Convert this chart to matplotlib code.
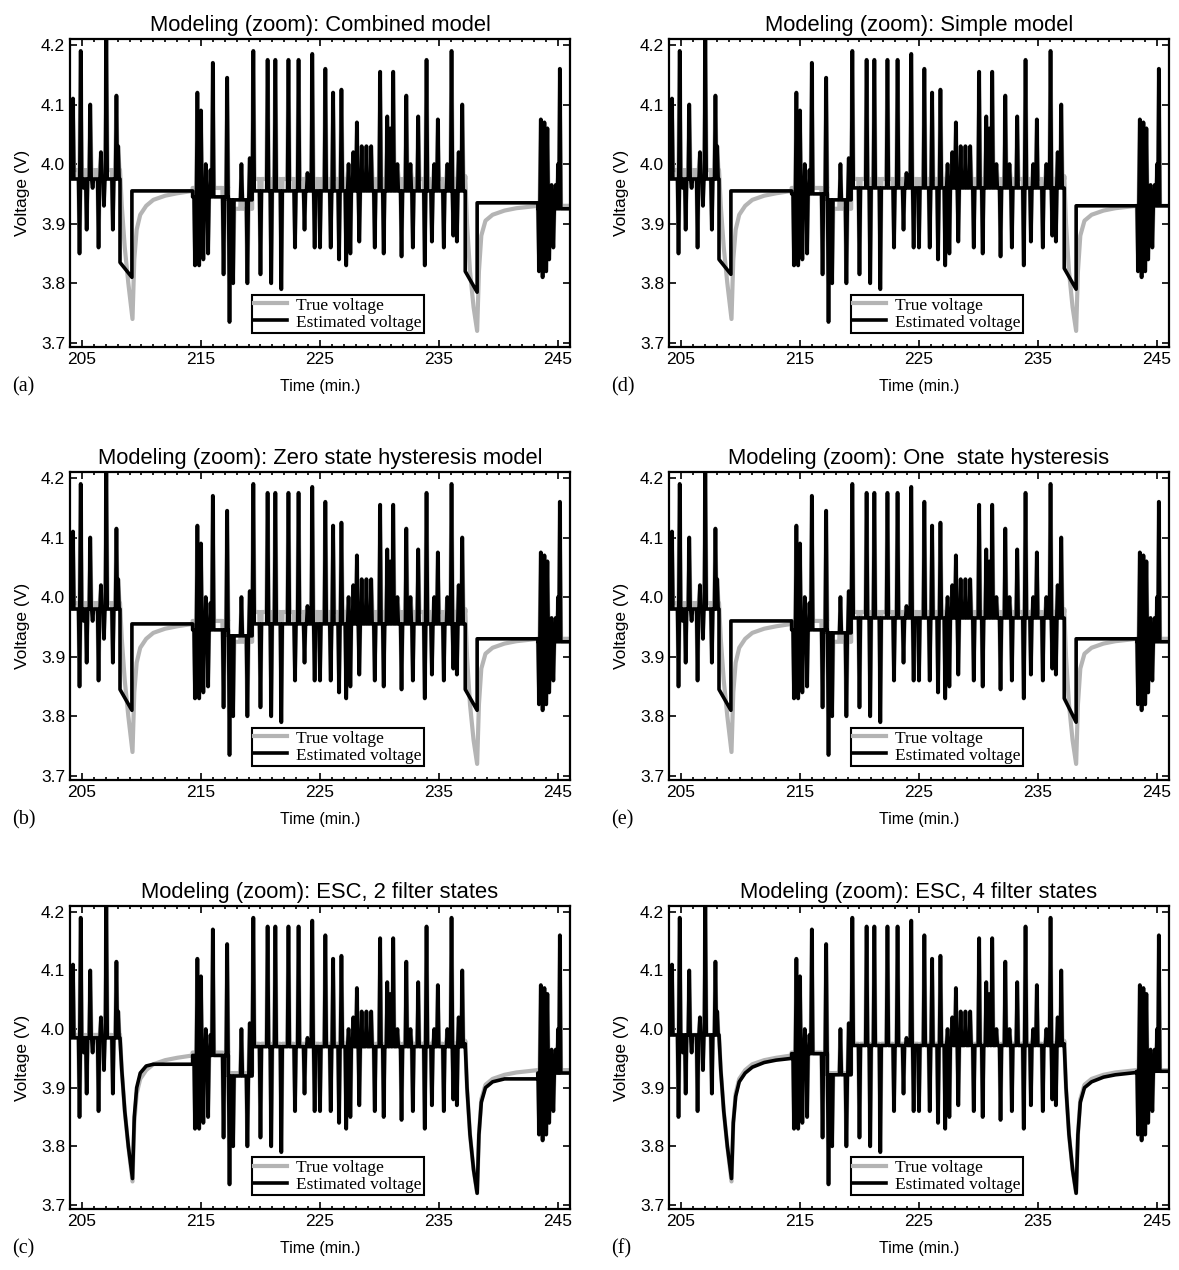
import numpy as np
import matplotlib.pyplot as plt
from matplotlib.ticker import MultipleLocator, FormatStrFormatter

# spike events while driving (time in min., peak voltage)
spike_t = [204.25, 204.8, 204.9, 205.15, 205.4, 205.7, 205.9, 206.4, 206.6, 206.85, 207.05, 207.6, 207.9, 208.05,
           214.5, 214.7, 214.85, 215.0, 215.2, 215.4, 215.6, 215.8, 216.0, 216.9, 217.2, 217.4, 217.7, 218.4,
           218.9, 219.1, 219.4, 220.0, 220.6, 220.9, 221.25, 221.75, 222.35, 222.9, 223.2, 223.7, 223.95, 224.35,
           224.55, 225.0, 225.45, 225.9, 226.1, 226.6, 226.8, 227.2, 227.4, 227.55, 227.8, 228.1, 228.3, 228.5,
           228.9, 229.3, 229.6, 230.05, 230.35, 230.65, 230.9, 231.15, 231.5, 231.85, 232.25, 232.6, 232.8, 233.25,
           233.8, 233.95, 234.4, 234.6, 234.9, 235.4, 235.7, 236.05, 236.2, 236.5, 236.65, 236.95,
           243.4, 243.55, 243.7, 243.85, 244.0, 244.1, 244.25, 244.45, 244.6, 244.8, 245.0, 245.15]
spike_v = [4.11, 3.85, 4.19, 3.96, 3.89, 4.10, 3.96, 3.86, 4.02, 3.93, 4.21, 3.89, 4.115, 4.03,
           3.83, 4.12, 3.83, 4.09, 3.84, 4.00, 3.85, 3.99, 4.17, 3.815, 4.145, 3.735, 3.80, 4.00,
           3.80, 4.01, 4.19, 3.815, 4.175, 3.80, 4.175, 3.79, 4.175, 3.86, 4.175, 3.89, 3.985, 4.185,
           3.86, 3.86, 4.16, 3.86, 4.12, 3.84, 4.125, 3.83, 4.00, 3.85, 4.02, 4.07, 3.87, 4.03,
           4.03, 4.03, 3.86, 4.155, 3.85, 4.08, 4.06, 4.155, 4.00, 3.845, 4.115, 4.00, 3.86, 4.08,
           3.83, 4.175, 3.87, 4.00, 4.075, 3.86, 4.00, 4.19, 3.88, 3.87, 4.02, 4.10,
           3.82, 4.075, 3.81, 4.07, 3.82, 4.06, 3.84, 3.965, 3.86, 3.965, 4.00, 4.16]

# driving sections (start, end) between the rest periods
sec_start = [204.0, 214.3, 217.3, 219.3, 243.3]
sec_end = [208.2, 217.3, 219.3, 237.2, 246.0]

# rest level of each section
rest_true = [3.99, 3.96, 3.925, 3.975, 3.93]
rest_a = [3.975, 3.945, 3.94, 3.955, 3.925]
rest_b = [3.98, 3.945, 3.935, 3.955, 3.925]
rest_c = [3.985, 3.955, 3.92, 3.97, 3.925]
rest_d = [3.975, 3.95, 3.94, 3.96, 3.93]
rest_e = [3.98, 3.945, 3.94, 3.965, 3.925]
rest_f = [3.99, 3.958, 3.922, 3.972, 3.928]

# first rest period (208.2 - 214.3 min.)
dip1_t_true = [208.2, 208.35, 208.6, 208.9, 209.25, 209.4, 209.6, 209.9, 210.4, 211.0, 212.0, 213.0, 214.3]
dip1_v_true = [3.99, 3.93, 3.86, 3.80, 3.74, 3.84, 3.89, 3.915, 3.93, 3.94, 3.947, 3.951, 3.955]
dip1_v_c = [3.985, 3.93, 3.86, 3.80, 3.745, 3.85, 3.90, 3.925, 3.937, 3.94, 3.94, 3.94, 3.94]
dip1_v_f = [3.99, 3.93, 3.86, 3.80, 3.745, 3.84, 3.885, 3.91, 3.925, 3.935, 3.943, 3.947, 3.95]
dip1_t_step = [208.2, 208.2, 209.2, 209.2, 214.3]
dip1_v_a = [3.975, 3.835, 3.81, 3.955, 3.955]
dip1_v_b = [3.98, 3.845, 3.81, 3.955, 3.955]
dip1_v_d = [3.975, 3.84, 3.815, 3.955, 3.955]
dip1_v_e = [3.98, 3.845, 3.81, 3.96, 3.96]

# second rest period (237.2 - 243.3 min.)
dip2_t_true = [237.2, 237.35, 237.6, 237.9, 238.2, 238.35, 238.55, 238.9, 239.5, 240.5, 241.5, 243.3]
dip2_v_true = [3.98, 3.90, 3.82, 3.76, 3.72, 3.82, 3.88, 3.905, 3.915, 3.922, 3.926, 3.93]
dip2_v_c = [3.975, 3.90, 3.82, 3.76, 3.72, 3.82, 3.875, 3.90, 3.91, 3.915, 3.915, 3.915]
dip2_v_f = [3.975, 3.90, 3.82, 3.76, 3.72, 3.82, 3.875, 3.90, 3.91, 3.918, 3.922, 3.926]
dip2_t_step = [237.2, 237.2, 238.2, 238.2, 243.3]
dip2_v_a = [3.955, 3.82, 3.785, 3.935, 3.935]
dip2_v_b = [3.955, 3.845, 3.81, 3.93, 3.93]
dip2_v_d = [3.96, 3.825, 3.79, 3.93, 3.93]
dip2_v_e = [3.965, 3.83, 3.79, 3.93, 3.93]

titles = ["Modeling (zoom): Combined model", "Modeling (zoom): Zero state hysteresis model",
          "Modeling (zoom): ESC, 2 filter states", "Modeling (zoom): Simple model",
          "Modeling (zoom): One  state hysteresis", "Modeling (zoom): ESC, 4 filter states"]
letters = ["(a)", "(b)", "(c)", "(d)", "(e)", "(f)"]


def build(rest, d1_t, d1_v, d2_t, d2_v, hw=0.08):
    # join the rest levels, spikes and rest periods into one polyline
    tt, vv = [], []
    for k in range(len(sec_start)):
        r = rest[k]
        tt.append(sec_start[k])
        vv.append(r)
        for t, v in zip(spike_t, spike_v):
            if sec_start[k] <= t < sec_end[k]:
                tt += [t - hw, t, t + hw]
                vv += [r, v, r]
        tt.append(sec_end[k])
        vv.append(r)
        if k == 0:
            tt += d1_t
            vv += d1_v
        if k == 3:
            tt += d2_t
            vv += d2_v
    return tt, vv


true_t, true_v = build(rest_true, dip1_t_true, dip1_v_true, dip2_t_true, dip2_v_true, hw=0.1)
est = [build(rest_a, dip1_t_step, dip1_v_a, dip2_t_step, dip2_v_a),
       build(rest_b, dip1_t_step, dip1_v_b, dip2_t_step, dip2_v_b),
       build(rest_c, dip1_t_true, dip1_v_c, dip2_t_true, dip2_v_c),
       build(rest_d, dip1_t_step, dip1_v_d, dip2_t_step, dip2_v_d),
       build(rest_e, dip1_t_step, dip1_v_e, dip2_t_step, dip2_v_e),
       build(rest_f, dip1_t_true, dip1_v_f, dip2_t_true, dip2_v_f)]

plt.rcParams['font.family'] = ['Liberation Sans', 'DejaVu Sans']

W, H = 1179, 1270
fig = plt.figure(figsize=(W / 100, H / 100), dpi=100)

col_left = [70, 669]
col_w = 500
row_top = [39, 472, 906]
row_h = [308, 308, 303]

for i in range(6):
    col, row = i // 3, i % 3
    ax = fig.add_axes([col_left[col] / W, 1 - (row_top[row] + row_h[row]) / H,
                       col_w / W, row_h[row] / H])
    ax.plot(true_t, true_v, color='#b4b4b4', lw=3.0, label='True voltage')
    ax.plot(est[i][0], est[i][1], color='black', lw=2.6, label='Estimated voltage')
    ax.set_xlim(204.0, 246.0)
    ax.set_ylim(3.693, 4.21)
    ax.xaxis.set_minor_locator(MultipleLocator(1))
    ax.set_xticks([205, 215, 225, 235, 245])
    ax.set_yticks([3.7, 3.8, 3.9, 4.0, 4.1, 4.2])
    ax.yaxis.set_major_formatter(FormatStrFormatter('%.1f'))
    ax.tick_params(which='both', direction='in', top=True, right=True, labelsize=12.5, width=1.2)
    ax.tick_params(which='major', length=5)
    ax.tick_params(which='minor', length=2.5)
    for s in ax.spines.values():
        s.set_linewidth(1.6)
    ax.set_title(titles[i], fontsize=15.8, pad=6)
    ax.set_xlabel('Time (min.)', fontsize=11.5, labelpad=9)
    ax.set_ylabel('Voltage (V)', fontsize=12.5, labelpad=8)
    leg = ax.legend(loc='lower left', bbox_to_anchor=(0.363, 0.045), fancybox=False,
                    framealpha=1, edgecolor='black', handlelength=1.9, borderpad=0.15,
                    labelspacing=0.05, handletextpad=0.5, borderaxespad=0,
                    prop={'family': 'Liberation Serif', 'size': 12.5})
    leg.get_frame().set_linewidth(1.5)
    fig.text((col_left[col] - 58) / W, 1 - (row_top[row] + row_h[row] + 40) / H, letters[i],
             family='Liberation Serif', fontsize=14.5, va='center', ha='left')

fig.savefig('out.png', dpi=100)
